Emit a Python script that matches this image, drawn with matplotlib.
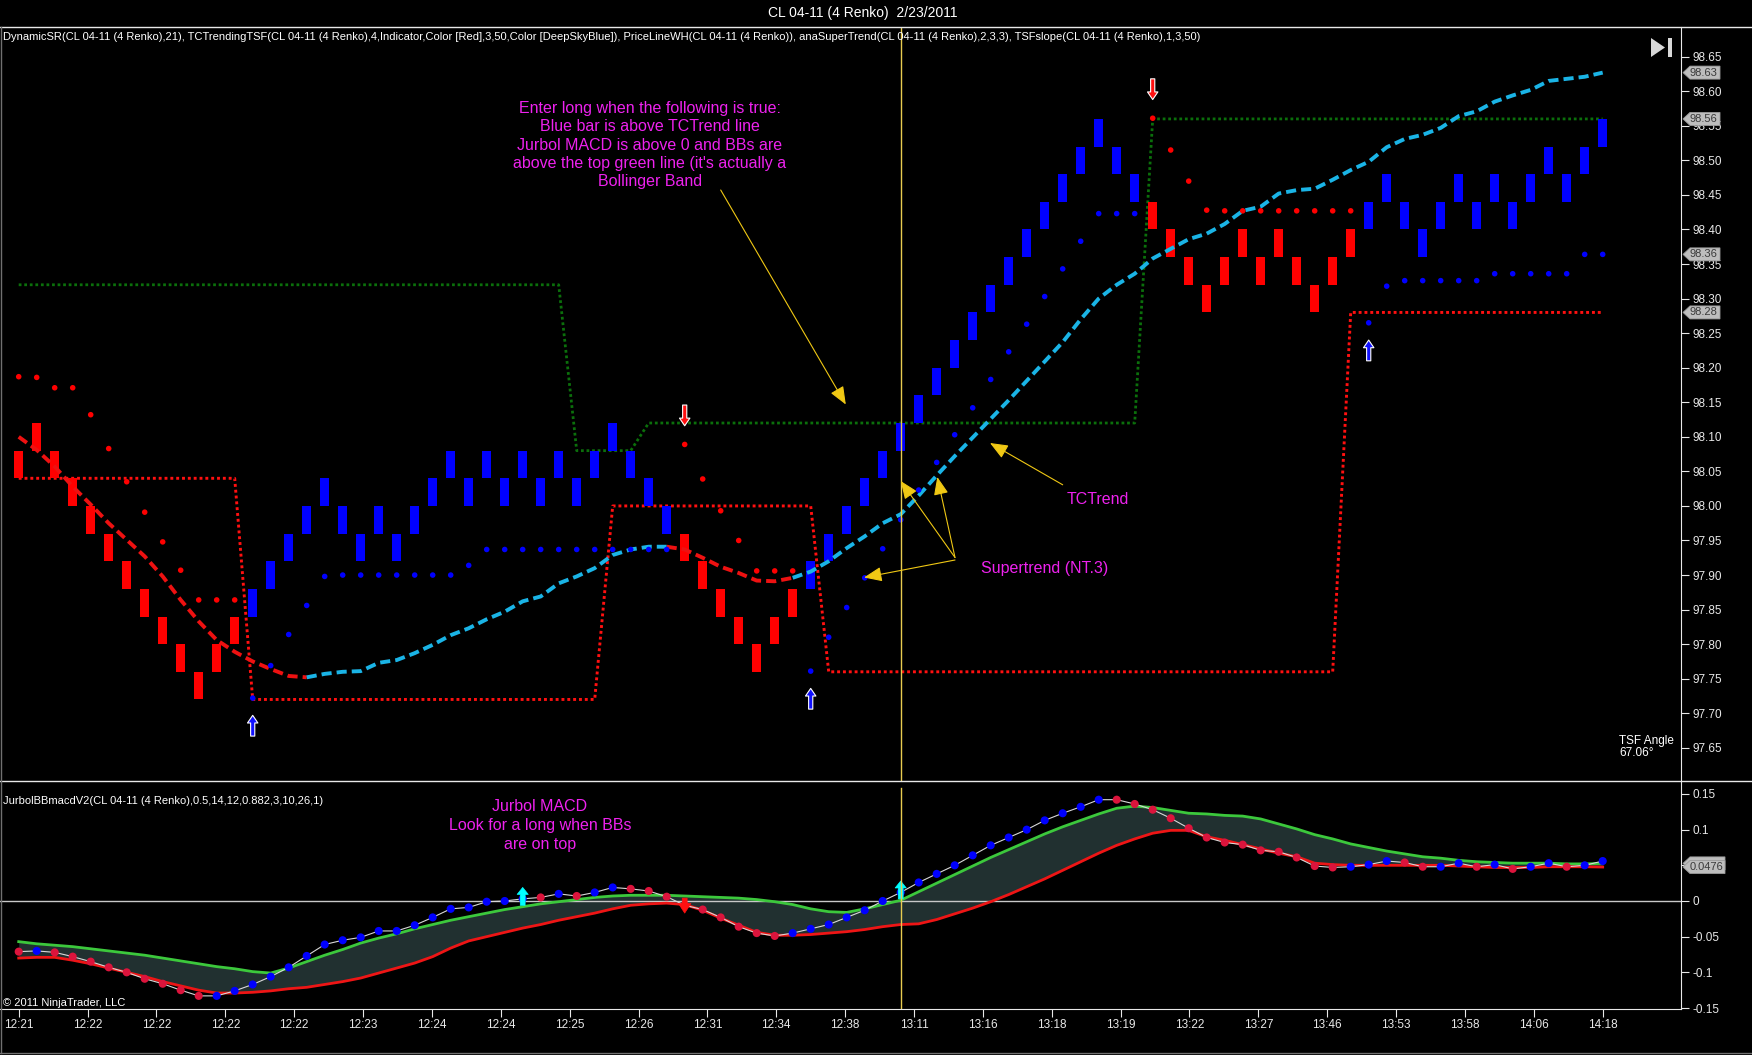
import numpy as np
import matplotlib
matplotlib.use("Agg")
import matplotlib.pyplot as plt
from matplotlib.patches import Polygon
from matplotlib.lines import Line2D
from matplotlib.transforms import IdentityTransform

plt.rcParams['font.family'] = ['Liberation Sans', 'DejaVu Sans']

W, H = 1752, 1055

# ---- data: 4 tick renko bricks (bottom of each brick) ----
BRICK = 0.04
brick_low = [98.04, 98.08, 98.04, 98.00, 97.96, 97.92, 97.88, 97.84, 97.80, 97.76,
             97.72, 97.76, 97.80, 97.84, 97.88, 97.92, 97.96, 98.00, 97.96, 97.92,
             97.96, 97.92, 97.96, 98.00, 98.04, 98.00, 98.04, 98.00, 98.04, 98.00,
             98.04, 98.00, 98.04, 98.08, 98.04, 98.00, 97.96, 97.92, 97.88, 97.84,
             97.80, 97.76, 97.80, 97.84, 97.88, 97.92, 97.96, 98.00, 98.04, 98.08,
             98.12, 98.16, 98.20, 98.24, 98.28, 98.32, 98.36, 98.40, 98.44, 98.48,
             98.52, 98.48, 98.44, 98.40, 98.36, 98.32, 98.28, 98.32, 98.36, 98.32,
             98.36, 98.32, 98.28, 98.32, 98.36, 98.40, 98.44, 98.40, 98.36, 98.40,
             98.44, 98.40, 98.44, 98.40, 98.44, 98.48, 98.44, 98.48, 98.52]
# U = blue brick / blue supertrend dot, D = red
trend = "D" * 13 + "U" * 24 + "D" * 7 + "U" * 19 + "D" * 12 + "U" * 14

# anaSuperTrend dots
stop_dots = [98.187, 98.186, 98.171, 98.171, 98.132, 98.083, 98.035, 97.991, 97.948, 97.907,
             97.864, 97.864, 97.864, 97.722, 97.769, 97.814, 97.856, 97.898, 97.90, 97.90,
             97.90, 97.90, 97.90, 97.90, 97.90, 97.914, 97.937, 97.937, 97.937, 97.937,
             97.937, 97.937, 97.937, 97.937, 97.937, 97.937, 97.937, 98.089, 98.039, 97.993,
             97.95, 97.906, 97.906, 97.906, 97.761, 97.81, 97.853, 97.896, 97.938, 97.98,
             98.023, 98.063, 98.103, 98.142, 98.183, 98.223, 98.263, 98.303, 98.343, 98.383,
             98.423, 98.423, 98.423, 98.561, 98.515, 98.47, 98.428, 98.427, 98.427, 98.427,
             98.427, 98.427, 98.427, 98.427, 98.427, 98.265, 98.318, 98.326, 98.326, 98.326,
             98.326, 98.326, 98.336, 98.336, 98.336, 98.336, 98.336, 98.364, 98.364]

# TCTrendingTSF line
tsf = [98.10, 98.081, 98.057, 98.028, 98.002, 97.975, 97.951, 97.927, 97.898, 97.864,
       97.833, 97.806, 97.789, 97.775, 97.764, 97.754, 97.752, 97.757, 97.76, 97.761,
       97.773, 97.777, 97.787, 97.799, 97.813, 97.823, 97.836, 97.847, 97.862, 97.869,
       97.888, 97.898, 97.91, 97.929, 97.937, 97.941, 97.941, 97.937, 97.925, 97.912,
       97.903, 97.892, 97.891, 97.896, 97.905, 97.92, 97.939, 97.956, 97.975, 97.988,
       98.015, 98.044, 98.072, 98.099, 98.126, 98.153, 98.181, 98.209, 98.237, 98.27,
       98.30, 98.32, 98.336, 98.358, 98.372, 98.386, 98.394, 98.408, 98.427, 98.433,
       98.452, 98.457, 98.459, 98.472, 98.486, 98.498, 98.519, 98.531, 98.537, 98.547,
       98.564, 98.571, 98.585, 98.594, 98.602, 98.615, 98.618, 98.621, 98.627]
tsf_trend = "D" * 17 + "U" * 20 + "D" * 7 + "U" * 45

# DynamicSR support / resistance
support = [98.04] * 13 + [97.72] * 20 + [98.00] * 12 + [97.76] * 29 + [98.28] * 15
resistance = [98.32] * 31 + [98.08] * 4 + [98.12] * 28 + [98.56] * 26

# JurbolBBmacdV2
macd = [-0.071, -0.070, -0.072, -0.078, -0.085, -0.093, -0.100, -0.109, -0.116, -0.125,
        -0.133, -0.133, -0.126, -0.117, -0.106, -0.093, -0.077, -0.061, -0.055, -0.051,
        -0.042, -0.042, -0.034, -0.023, -0.011, -0.009, -0.001, 0.000, 0.003, 0.005,
        0.010, 0.007, 0.012, 0.019, 0.017, 0.014, 0.006, -0.006, -0.012, -0.023,
        -0.036, -0.045, -0.049, -0.045, -0.039, -0.033, -0.023, -0.013, 0.000, 0.012,
        0.026, 0.038, 0.050, 0.064, 0.078, 0.089, 0.100, 0.113, 0.123, 0.132,
        0.142, 0.142, 0.136, 0.128, 0.116, 0.102, 0.089, 0.082, 0.079, 0.071,
        0.069, 0.061, 0.049, 0.047, 0.048, 0.051, 0.056, 0.054, 0.048, 0.048,
        0.053, 0.048, 0.051, 0.045, 0.048, 0.053, 0.048, 0.050, 0.056]
macd_col = "rb" + "r" * 9 + "b" * 18 + "rbrbb" + "r" * 9 + "b" * 18 + "r" * 13 + "bbbrrbbrbrbbrbb"
bb_upper = [-0.057, -0.060, -0.062, -0.064, -0.067, -0.070, -0.073, -0.076, -0.080, -0.084,
            -0.088, -0.092, -0.095, -0.099, -0.101, -0.094, -0.085, -0.076, -0.068, -0.059,
            -0.052, -0.046, -0.039, -0.033, -0.027, -0.022, -0.017, -0.012, -0.008, -0.004,
            -0.001, 0.002, 0.005, 0.007, 0.008, 0.008, 0.008, 0.007, 0.006, 0.005,
            0.004, 0.002, -0.001, -0.005, -0.011, -0.015, -0.016, -0.011, -0.005, 0.001,
            0.013, 0.025, 0.037, 0.049, 0.061, 0.072, 0.083, 0.094, 0.104, 0.113,
            0.122, 0.130, 0.133, 0.131, 0.127, 0.123, 0.122, 0.120, 0.119, 0.115,
            0.108, 0.101, 0.093, 0.087, 0.080, 0.075, 0.070, 0.066, 0.062, 0.060,
            0.057, 0.055, 0.054, 0.053, 0.053, 0.053, 0.052, 0.052, 0.0527]
bb_lower = [-0.080, -0.079, -0.079, -0.083, -0.088, -0.094, -0.100, -0.106, -0.113, -0.119,
            -0.125, -0.129, -0.129, -0.128, -0.126, -0.123, -0.121, -0.117, -0.113, -0.108,
            -0.101, -0.094, -0.087, -0.078, -0.066, -0.056, -0.050, -0.044, -0.038, -0.033,
            -0.027, -0.022, -0.017, -0.011, -0.006, -0.004, -0.003, -0.005, -0.013, -0.024,
            -0.034, -0.044, -0.048, -0.048, -0.047, -0.045, -0.043, -0.040, -0.036, -0.033,
            -0.032, -0.026, -0.018, -0.010, -0.001, 0.009, 0.020, 0.031, 0.043, 0.055,
            0.067, 0.078, 0.087, 0.095, 0.099, 0.099, 0.090, 0.085, 0.079, 0.073,
            0.067, 0.062, 0.053, 0.051, 0.050, 0.050, 0.050, 0.050, 0.050, 0.050,
            0.049, 0.048, 0.047, 0.047, 0.047, 0.048, 0.048, 0.048, 0.0476]
macd_long = [28, 49]
macd_short = [37]

time_labels = ["12:21", "12:22", "12:22", "12:22", "12:22", "12:23", "12:24", "12:24",
               "12:25", "12:26", "12:31", "12:34", "12:38", "13:11", "13:16", "13:18",
               "13:19", "13:22", "13:27", "13:46", "13:53", "13:58", "14:06", "14:18"]
cursor_bar = 49
tsf_angle = "67.06°"

x = np.arange(len(brick_low))
n = len(x)

fig = plt.figure(figsize=(W / 100, H / 100), dpi=100, facecolor="black")


def fpx(px, py):
    # image pixel (top-left origin) -> figure pixels
    return (px, H - py)


ax = fig.add_axes([0, 1 - 781 / H, 1681 / W, (781 - 27) / H])
ax2 = fig.add_axes([0, 1 - 1009 / H, 1681 / W, (1009 - 781) / H], sharex=ax)
for a in (ax, ax2):
    a.set_facecolor("black")
    for s in ("left", "top", "bottom"):
        a.spines[s].set_visible(False)
    a.spines["right"].set_color("#e8e8e8")
    a.yaxis.tick_right()
    a.tick_params(axis="y", colors="#e8e8e8", labelcolor="#e8e8e8", length=6,
                  direction="out", labelsize=8.5, pad=2)
ax2.spines["bottom"].set_visible(True)
ax2.spines["bottom"].set_color("#e8e8e8")
ax.tick_params(axis="x", bottom=False, labelbottom=False)

ax.set_xlim(-1.039, 92.35)
ax.set_ylim(97.602, 98.693)
ax2.set_ylim(-0.1514, 0.1682)

# ---- main panel ----
up = np.array([t == "U" for t in trend])
ax.bar(x, BRICK, bottom=brick_low, width=0.5,
       color=np.where(up, "#0000ff", "#ff0000"), edgecolor="none", zorder=3)

dotted = (0, (1, 1))
ax.plot(x, support, color="#ff1010", lw=2.1, ls=dotted, zorder=2)
ax.plot(x, resistance, color="#0b6f0b", lw=2.0, ls=dotted, zorder=2)

# TSF line, coloured by trend segment
start = 0
for i in range(1, n):
    last = i == n - 1
    if last or tsf_trend[i + 1] != tsf_trend[i]:
        col = "#1ab4e6" if tsf_trend[i] == "U" else "#ee1111"
        ax.plot(x[start:i + 1], tsf[start:i + 1], color=col, lw=2.8,
                dashes=(2.6, 1.3), zorder=4, solid_capstyle="butt", dash_capstyle="butt")
        start = i

ax.scatter(x, stop_dots, s=16, c=np.where(up, "#0000ff", "#ff0000"),
           edgecolors="none", zorder=5)

# supertrend signal arrows
for i in range(1, n):
    if trend[i] == trend[i - 1]:
        continue
    if trend[i] == "U":
        tip = stop_dots[i] - 0.025
        tail = tip - 0.03
        fc = "#1010ff"
    else:
        tip = stop_dots[i] + 0.027
        tail = tip + 0.03
        fc = "#ff1010"
    ax.annotate("", xy=(i, tip), xytext=(i, tail),
                arrowprops=dict(arrowstyle="simple,head_length=0.55,head_width=0.75,tail_width=0.3",
                                fc=fc, ec="white", lw=0.8, shrinkA=0, shrinkB=0,
                                mutation_scale=10), zorder=6)

ax.axvline(cursor_bar, color="#e8cc50", lw=1, zorder=7)
ax2.axvline(cursor_bar, ymax=0.969, color="#e8cc50", lw=1, zorder=7)

ax.set_yticks(np.round(np.arange(97.65, 98.651, 0.05), 2))
ax.yaxis.set_major_formatter(plt.FuncFormatter(lambda v, p: f"{v:.2f}"))

# ---- lower panel ----
ax2.fill_between(x, bb_lower, bb_upper, color="#213030", lw=0, zorder=1)
ax2.axhline(0, color="#c8c8c8", lw=1, zorder=2)
ax2.plot(x, bb_upper, color="#3cc83c", lw=2, zorder=3)
ax2.plot(x, bb_lower, color="#ee1515", lw=2, zorder=3)
ax2.plot(x, macd, color="#d8d8d8", lw=0.8, zorder=4)
ax2.scatter(x, macd, s=34, c=["#0000ff" if c == "b" else "#dc143c" for c in macd_col],
            edgecolors="none", zorder=5)
for i in macd_long:
    ax2.annotate("", xy=(i, macd[i] + 0.016), xytext=(i, macd[i] - 0.009),
                 arrowprops=dict(arrowstyle="simple,head_length=0.5,head_width=0.8,tail_width=0.35",
                                 fc="#00ffff", ec="#00ffff", lw=0.5, shrinkA=0, shrinkB=0,
                                 mutation_scale=10), zorder=6)
for i in macd_short:
    ax2.annotate("", xy=(i, macd[i] - 0.011), xytext=(i, macd[i] + 0.01),
                 arrowprops=dict(arrowstyle="simple,head_length=0.7,head_width=0.9,tail_width=0.35",
                                 fc="#ff1010", ec="#ff1010", lw=0.5, shrinkA=0, shrinkB=0,
                                 mutation_scale=10), zorder=6)

# the 0.05 label sits under the price marker, as in the original
ax2.set_yticks([-0.15, -0.1, -0.05, 0, 0.05, 0.1, 0.15])
ax2.yaxis.set_major_formatter(plt.FuncFormatter(
    lambda v, p: "" if abs(v - 0.05) < 1e-9 else ("0" if abs(v) < 1e-9 else f"{v:g}")))
ax2.set_xticks(np.linspace(0, n - 1, len(time_labels)))
ax2.set_xticklabels(time_labels)
ax2.tick_params(axis="x", colors="#e8e8e8", labelcolor="#e8e8e8", length=6,
                direction="out", labelsize=8.5, pad=1)

# ---- price markers on the axis ----
fig.canvas.draw()


def price_box(a, val, text=None, width=37, z=10):
    yd = a.transData.transform((0, val))[1]
    xl = a.transAxes.transform((1, 0))[0] + 2
    pts = [(xl, yd), (xl + 7, yd - 6.5), (xl + width, yd - 6.5), (xl + width, yd + 6.5),
           (xl + 7, yd + 6.5)]
    fig.add_artist(Polygon(pts, closed=True, fc="#bdbdbd", ec="#9a9a9a", lw=0.6,
                           transform=IdentityTransform(), zorder=z))
    if text:
        fig.text((xl + 7) / W, yd / H, text, fontsize=8, color="#3a3a3a",
                 ha="left", va="center", zorder=z + 0.5)


price_box(ax, tsf[-1], f"{tsf[-1]:.2f}")
price_box(ax, resistance[-1], f"{resistance[-1]:.2f}")
price_box(ax, stop_dots[-1], f"{stop_dots[-1]:.2f}")
price_box(ax, support[-1], f"{support[-1]:.2f}")
price_box(ax2, bb_upper[-1], None, width=42, z=10)
price_box(ax2, bb_lower[-1], f"{bb_lower[-1]:.4f}", width=42, z=11)

# ---- frame lines ----
for y0, x1 in ((27, W), (781, W)):
    fig.add_artist(Line2D([0, x1 / W], [1 - y0 / H] * 2, color="#e8e8e8", lw=1))
fig.add_artist(Line2D([0.6 / W] * 2, [1 - 27 / H, 1 - 1053 / H], color="#707070", lw=1))
fig.add_artist(Line2D([0, 1], [1 - 1053 / H] * 2, color="#707070", lw=1))

# play/end icon
fig.add_artist(Polygon([(1651 / W, 1 - 38 / H), (1651 / W, 1 - 57 / H), (1665 / W, 1 - 47.5 / H)],
                       closed=True, fc="#d8d8d8", ec="none", transform=fig.transFigure))
fig.add_artist(Polygon([(1668 / W, 1 - 38 / H), (1672 / W, 1 - 38 / H), (1672 / W, 1 - 57 / H),
                        (1668 / W, 1 - 57 / H)], closed=True, fc="#d8d8d8", ec="none",
                       transform=fig.transFigure))

# ---- texts ----
fig.text(863 / W, 1 - 13 / H, "CL 04-11 (4 Renko)  2/23/2011", color="white",
         fontsize=10, ha="center", va="center")
fig.text(3 / W, 1 - 37 / H,
         "DynamicSR(CL 04-11 (4 Renko),21), TCTrendingTSF(CL 04-11 (4 Renko),4,Indicator,"
         "Color [Red],3,50,Color [DeepSkyBlue]), PriceLineWH(CL 04-11 (4 Renko)), "
         "anaSuperTrend(CL 04-11 (4 Renko),2,3,3), TSFslope(CL 04-11 (4 Renko),1,3,50)",
         color="white", fontsize=8, ha="left", va="center")
fig.text(3 / W, 1 - 801 / H, "JurbolBBmacdV2(CL 04-11 (4 Renko),0.5,14,12,0.882,3,10,26,1)",
         color="white", fontsize=8, ha="left", va="center")
fig.text(3 / W, 1 - 1003 / H, "© 2011 NinjaTrader, LLC", color="white",
         fontsize=8, ha="left", va="center")
fig.text(1619 / W, 1 - 735 / H, "TSF Angle\n" + tsf_angle, color="white",
         fontsize=8.5, ha="left", va="top", linespacing=1.05)

MAG = "#ee22ee"
fig.text(650 / W, 1 - 101 / H,
         "Enter long when the following is true:\nBlue bar is above TCTrend line\n"
         "Jurbol MACD is above 0 and BBs are\nabove the top green line (it's actually a\n"
         "Bollinger Band", color=MAG, fontsize=11.5, ha="center", va="top", linespacing=1.28)
fig.text(1098 / W, 1 - 499 / H, "TCTrend", color=MAG, fontsize=11.5, ha="center", va="center")
fig.text(1045 / W, 1 - 569 / H, "Supertrend (NT.3)", color=MAG, fontsize=11.5,
         ha="center", va="center")
fig.text(540 / W, 1 - 799 / H, "Jurbol MACD\nLook for a long when BBs\nare on top",
         color=MAG, fontsize=11.5, ha="center", va="top", linespacing=1.33)

YEL = "#f0c814"
arrows = [((720.7, 190), (845.8, 404.5)),
          ((1062.7, 484.8), (990, 443)),
          ((955, 557.5), (900.7, 481)),
          ((955, 557.5), (937.3, 477)),
          ((955, 560), (864, 577.5)),
          ((632.6, 826.7), (882, 879))]
for tail, tip in arrows:
    ax.annotate("", xy=fpx(*tip), xytext=fpx(*tail), xycoords="figure pixels",
                textcoords="figure pixels", annotation_clip=False,
                arrowprops=dict(arrowstyle="-|>,head_length=1.1,head_width=0.45",
                                color=YEL, lw=0.8, shrinkA=0, shrinkB=0, mutation_scale=10),
                zorder=8)

fig.savefig("out.png", dpi=100, facecolor="black")
